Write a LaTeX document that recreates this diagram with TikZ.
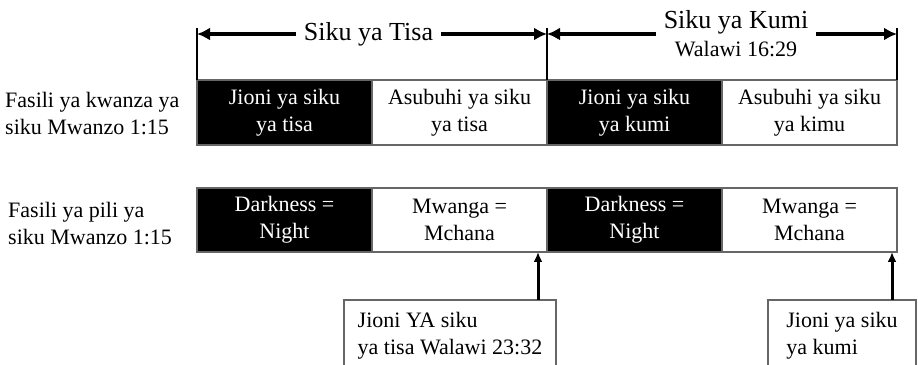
\documentclass[tikz,border=0pt]{standalone}
\usepackage{fontspec}
\setmainfont{Liberation Serif}
\usetikzlibrary{arrows.meta,positioning}

\tikzset{
  cell/.style={draw=black!60, line width=1.6pt, minimum width=175pt, minimum height=65pt,
    inner sep=0pt, outer sep=0pt, align=center, font=\fontsize{22}{27}\selectfont},
  dark/.style={cell, fill=black, text=white},
  light/.style={cell, fill=white},
  rowlabel/.style={anchor=west, align=left, inner sep=0pt, font=\fontsize{22}{27}\selectfont},
  span/.style={line width=3.6pt, {Latex[length=13pt,width=13pt]}-{Latex[length=13pt,width=13pt]}},
  tick/.style={line width=2.6pt},
  title/.style={fill=white, inner xsep=8pt, inner ysep=2pt, align=center, font=\fontsize{26}{28}\selectfont},
  callout/.style={draw=black!60, line width=1.2pt, fill=white, anchor=north west, align=left,
    inner xsep=12pt, inner ysep=12pt, outer sep=0pt, font=\fontsize{22}{27}\selectfont},
  pointer/.style={line width=3pt, -{Latex[length=10pt,width=9pt]}}
}

\begin{document}
\begin{tikzpicture}[x=1pt, y=1pt]
    \useasboundingbox (0,0) rectangle (918,364);
    \clip (0,0) rectangle (918,364);

    % First reading
    \node[rowlabel] (f1) at (5,250.5) {Fasili ya kwanza ya\\siku Mwanzo 1:15};
    \node[dark] (k1) at (284.5,251.5) {Jioni ya siku\\ya tisa};
    \node[light, right=0pt of k1] (k2) {Asubuhi ya siku\\ya tisa};
    \node[dark, right=0pt of k2] (k3) {Jioni ya siku\\ya kumi};
    \node[light, right=0pt of k3] (k4) {Asubuhi ya siku\\ya kimu};

    % Second reading
    \node[rowlabel] (f2) at (8,140.5) {Fasili ya pili ya\\siku Mwanzo 1:15};
    \node[dark, minimum height=64pt] (m1) at (284.5,144) {Darkness =\\Night};
    \node[light, minimum height=64pt, right=0pt of m1] (m2) {Mwanga =\\Mchana};
    \node[dark, minimum height=64pt, right=0pt of m2] (m3) {Darkness =\\Night};
    \node[light, minimum height=64pt, right=0pt of m3] (m4) {Mwanga =\\Mchana};

    % Day spans
    \draw[tick] (k1.north west) -- ++(0,52) coordinate (t1);
    \draw[tick] (k3.north west) -- ++(0,52) coordinate (t2);
    \draw[tick] (k4.north east) -- ++(0,52) coordinate (t3);
    \draw[span] ([yshift=-6pt]t1) -- node[title, pos=0.49] (d9) {Siku ya Tisa} ([yshift=-6pt]t2);
    \draw[span] ([yshift=-6pt]t2) -- node[title, pos=0.54] (d10)
        {Siku ya Kumi\\{\fontsize{22}{28}\selectfont Walawi 16:29}} ([yshift=-6pt]t3);

    % Callouts
    \node[callout, minimum width=212pt] (c1) at (344,64) {Jioni YA siku\\ya tisa Walawi 23:32};
    \node[callout, minimum width=148pt] (c2) at (768,64) {Jioni ya siku\\ya kumi};
    \draw[pointer] ([xshift=-18pt]c1.north east) -- ([xshift=-9pt]m2.south east);
    \draw[pointer] ([xshift=-24pt]c2.north east) -- ([xshift=-5pt]m4.south east);
\end{tikzpicture}
\end{document}
